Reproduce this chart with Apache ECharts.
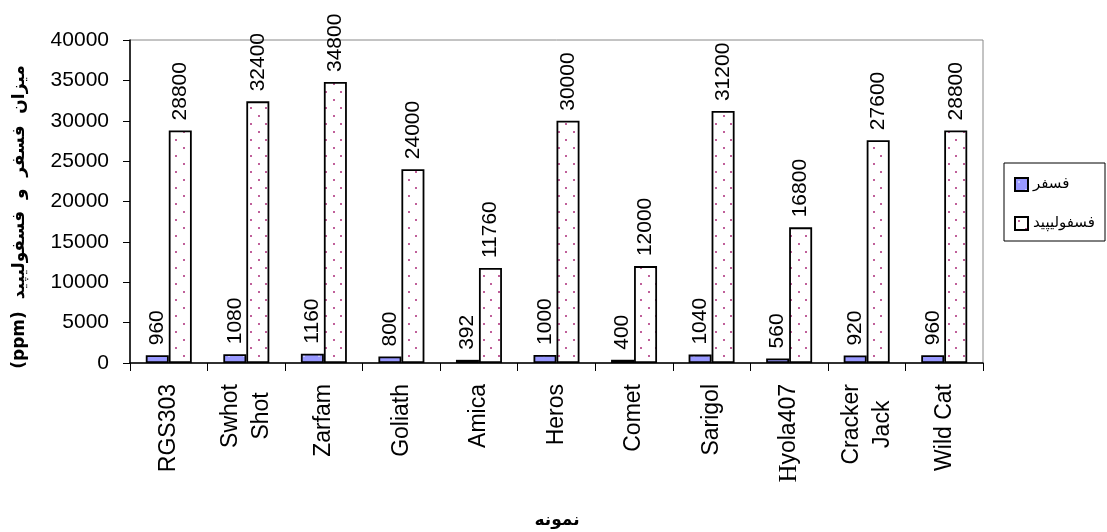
<!DOCTYPE html>
<html>
<head>
<meta charset="utf-8">
<script src="https://cdn.jsdelivr.net/npm/echarts@6/dist/echarts.min.js"></script>
<style>html,body{margin:0;padding:0;background:#fff}#c{width:1107px;height:532px}</style>
</head>
<body>
<div id="c"></div>
<script>
const categories = ['RGS303', 'Swhot\nShot', 'Zarfam', 'Goliath', 'Amica', 'Heros', 'Comet', 'Sarigol', 'Hyola407', 'Cracker\nJack', 'Wild Cat'];
const phosphorus = [960, 1080, 1160, 800, 392, 1000, 400, 1040, 560, 920, 960];
const phospholipid = [28800, 32400, 34800, 24000, 11760, 30000, 12000, 31200, 16800, 27600, 28800];
const seriesNames = ['فسفر', 'فسفولیپید'];
const yTitle = '(ppm)  میزان  فسفر  و  فسفولیپید';
const xTitle = 'نمونه';

function makePattern(bg, dot) {
  const c = document.createElement('canvas');
  c.width = 15; c.height = 16;
  const g = c.getContext('2d');
  g.fillStyle = bg; g.fillRect(0, 0, 15, 16);
  g.fillStyle = dot;
  g.fillRect(3, 3, 2, 2);
  g.fillRect(10, 11, 2, 2);
  return c;
}
const bluePat = makePattern('#9999FF', '#C8C8FF');
const pinkPat = makePattern('#FFFFFF', '#C0609A');

const chart = echarts.init(document.getElementById('c'));
const labelFont = {fontFamily: 'Liberation Sans, Arial, sans-serif', fontSize: 21, color: '#000'};
chart.setOption({
  animation: false,
  grid: {left: 130, right: 124, top: 40, bottom: 169, show: true, borderColor: '#888', borderWidth: 1},
  legend: {
    orient: 'vertical', left: 1009, top: 172, align: 'left', padding: 5,
    icon: 'rect', itemWidth: 13, itemHeight: 13, itemGap: 24,
    textStyle: {fontFamily: 'DejaVu Sans, sans-serif', fontSize: 15, color: '#000'},
    data: seriesNames
  },
  graphic: [
    {type: 'rect', shape: {x: 1004, y: 163, width: 101, height: 78}, style: {fill: 'none', stroke: '#000', lineWidth: 1}, z: 0},
    {type: 'text', x: 20, y: 217, rotation: Math.PI / 2,
     style: {text: yTitle, fontFamily: 'DejaVu Sans, Liberation Sans, sans-serif', fontWeight: 'bold', fontSize: 17, fill: '#000', align: 'center', verticalAlign: 'middle'}},
    {type: 'text', x: 557, y: 521,
     style: {text: xTitle, fontFamily: 'DejaVu Sans, sans-serif', fontWeight: 'bold', fontSize: 17, fill: '#000', align: 'center', verticalAlign: 'middle'}}
  ],
  xAxis: {
    type: 'category', data: categories, boundaryGap: true,
    axisLine: {lineStyle: {color: '#000', width: 1.5}},
    axisTick: {show: true, length: 8, interval: 0, lineStyle: {color: '#000'}},
    axisLabel: {
      interval: 0, rotate: 90, margin: 21,
      fontFamily: 'Liberation Sans, Arial, sans-serif', fontSize: 23, color: '#000',
      formatter: function (v) {
        if (v === 'Hyola407') return '{h|H}{n|yola407}';
        if (v.indexOf('\n') >= 0) return v.split('\n').map(function (s) { return '{c|' + s + '}'; }).join('\n');
        return '{n|' + v + '}';
      },
      rich: {
        h: {fontFamily: 'Liberation Serif, Times New Roman, serif', fontSize: 25, color: '#000'},
        n: {fontFamily: 'Liberation Sans, Arial, sans-serif', fontSize: 23, color: '#000'},
        c: {fontFamily: 'Liberation Sans, Arial, sans-serif', fontSize: 23, color: '#000', align: 'center', lineHeight: 31}
      }
    }
  },
  yAxis: {
    type: 'value', min: 0, max: 40000, interval: 5000,
    splitLine: {show: false},
    axisLine: {show: true, lineStyle: {color: '#000', width: 1.5}},
    axisTick: {show: true, length: 7, lineStyle: {color: '#000'}},
    axisLabel: {margin: 21, fontFamily: 'Liberation Sans, Arial, sans-serif', fontSize: 21, color: '#000',
      formatter: function (v) { return String(v); }}
  },
  series: [
    {
      name: seriesNames[0], type: 'bar', data: phosphorus, barWidth: 23, barGap: '0%',
      itemStyle: {color: {image: bluePat, repeat: 'repeat'}, borderColor: '#000', borderWidth: 1.8},
      label: Object.assign({show: true, position: 'top', rotate: 90, align: 'left', verticalAlign: 'middle', distance: 10}, labelFont)
    },
    {
      name: seriesNames[1], type: 'bar', data: phospholipid, barWidth: 23, barGap: '0%',
      itemStyle: {color: {image: pinkPat, repeat: 'repeat'}, borderColor: '#000', borderWidth: 1.8},
      label: Object.assign({show: true, position: 'top', rotate: 90, align: 'left', verticalAlign: 'middle', distance: 10}, labelFont)
    }
  ]
});
</script>
</body>
</html>
